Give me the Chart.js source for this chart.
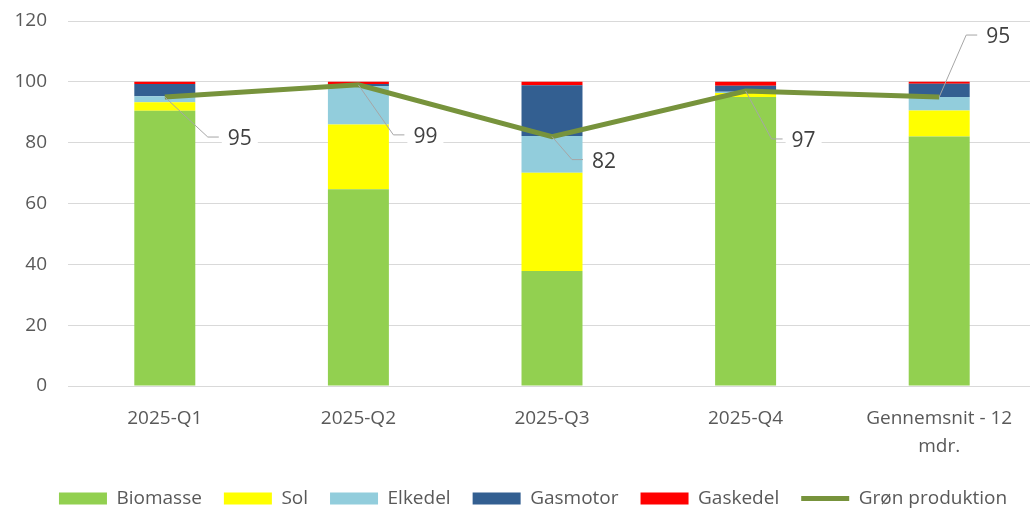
<!DOCTYPE html>
<html lang="da">
<head>
  <meta charset="UTF-8">
  <title>Grøn produktion 2025</title>
  <script src="https://cdn.jsdelivr.net/npm/chart.js"></script>
  <style>
    body {
      margin: 0;
      overflow: hidden;
      background: #fff;
    }
  </style>
</head>
<body>
  <canvas id="prodChart" width="1036" height="510"></canvas>

  <script>
    // data (share in %)
    const categories = ['2025-Q1', '2025-Q2', '2025-Q3', '2025-Q4', ['Gennemsnit - 12', 'mdr.']];
    const biomasse = [90.5, 64.7, 37.8, 95.0, 82.0];
    const sol      = [2.8, 21.3, 32.3, 1.3, 8.6];
    const elkedel  = [2.0, 12.6, 12.1, 0.4, 4.4];
    const gasmotor = [4.0, 0.7, 16.7, 2.0, 4.4];
    const gaskedel = [0.7, 0.7, 1.1, 1.3, 0.6];
    const gronProduktion = [95, 99, 82, 97, 95];
    const yTicks = [0, 20, 40, 60, 80, 100, 120];

    const textColor = '#595959';
    const font = { family: '"Open Sans", sans-serif', size: 19 };

    // labels with grey leader lines (offset of the elbow from the point)
    const leaderOffsets = [[43, 40], [35, 50], [20, 23], [26, 48], [27, -62]];
    const leaderLabels = {
      id: 'leaderLabels',
      afterInit(chart) {
        // legend sits a bit lower than chart.js puts it
        const fit = chart.legend.fit;
        chart.legend.fit = function () {
          fit.call(this);
          this.height -= 8;
        };
      },
      afterLayout(chart) {
        chart.legend.left += 15;
        chart.legend.right += 15;
      },
      afterDatasetsDraw(chart) {
        const meta = chart.getDatasetMeta(5);
        const ctx = chart.ctx;
        ctx.save();
        ctx.font = '21px "Open Sans", sans-serif';
        ctx.textBaseline = 'middle';
        meta.data.forEach((pt, i) => {
          const [dx, dy] = leaderOffsets[i];
          const ex = pt.x + dx, ey = pt.y + dy;
          ctx.strokeStyle = '#a6a6a6';
          ctx.lineWidth = 1;
          ctx.beginPath();
          ctx.moveTo(pt.x, pt.y);
          ctx.lineTo(ex, ey);
          ctx.lineTo(ex + 11, ey);
          ctx.stroke();
          const txt = String(gronProduktion[i]);
          const w = ctx.measureText(txt).width;
          const tx = ex + 20;
          ctx.fillStyle = '#fff';
          ctx.fillRect(tx - 6, ey - 12, w + 12, 28);
          ctx.fillStyle = '#404040';
          ctx.fillText(txt, tx, ey + 2);
        });
        ctx.restore();
      }
    };

    const barSet = (label, data, color) => ({
      label: label,
      data: data,
      backgroundColor: color,
      borderWidth: 0,
      pointStyle: 'rect',
      barPercentage: 0.315,
      categoryPercentage: 1
    });

    new Chart(document.getElementById('prodChart'), {
      type: 'bar',
      data: {
        labels: categories,
        datasets: [
          barSet('Biomasse', biomasse, '#92d050'),
          barSet('Sol', sol, '#ffff00'),
          barSet('Elkedel', elkedel, '#92cddc'),
          barSet('Gasmotor', gasmotor, '#335f91'),
          barSet('Gaskedel', gaskedel, '#ff0000'),
          {
            type: 'line',
            label: 'Grøn produktion',
            data: gronProduktion,
            borderColor: '#77933c',
            backgroundColor: '#77933c',
            borderWidth: 5,
            pointRadius: 0,
            pointStyle: 'line',
            tension: 0,
            stack: 'line',
            order: -1
          }
        ]
      },
      options: {
        responsive: false,
        animation: false,
        layout: { padding: { top: 21, bottom: 0, left: 0, right: 0 } },
        plugins: {
          tooltip: { enabled: false },
          legend: {
            position: 'bottom',
            labels: {
              usePointStyle: true,
              pointStyleWidth: 48,
              boxHeight: 12,
              padding: 22,
              color: textColor,
              font: font,
              sort: (a, b) => a.datasetIndex - b.datasetIndex
            }
          }
        },
        scales: {
          x: {
            stacked: true,
            afterFit: scale => { scale.height = 81; },
            grid: { display: false, drawTicks: false },
            border: { display: false },
            ticks: { color: textColor, font: { ...font, lineHeight: 1.5 }, padding: 18, maxRotation: 0, autoSkip: false }
          },
          y: {
            stacked: true,
            min: 0,
            max: 120,
            afterBuildTicks: scale => { scale.ticks = yTicks.map(v => ({ value: v })); },
            afterFit: scale => {
              scale.width = 68;
              scale.paddingTop = 0;
              scale.paddingBottom = 0;
            },
            grid: { color: '#d9d9d9', drawTicks: false },
            border: { display: false },
            ticks: { color: textColor, font: font, padding: 21 }
          }
        }
      },
      plugins: [leaderLabels]
    });
  </script>
</body>
</html>
